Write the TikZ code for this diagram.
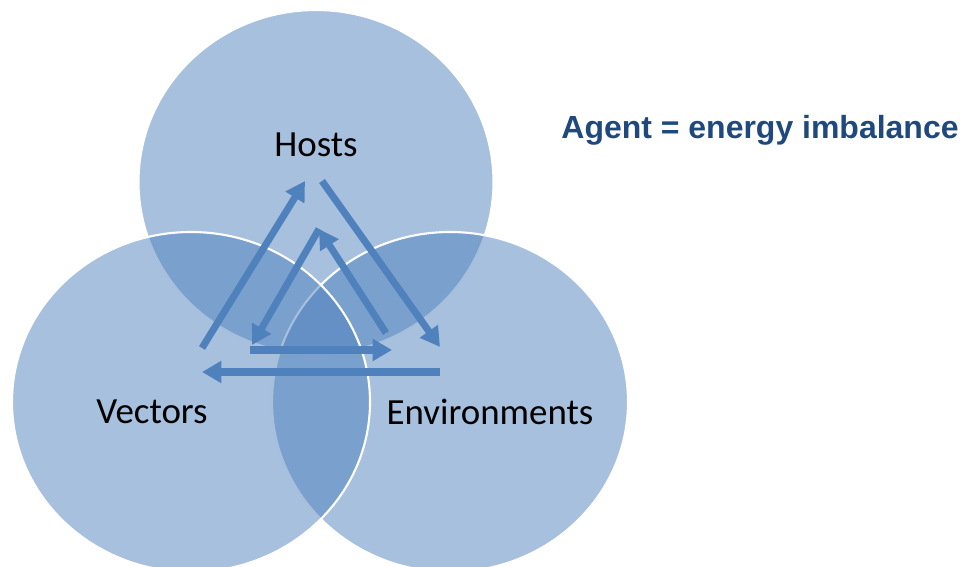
\documentclass[tikz,border=0pt]{standalone}
\usepackage{fontspec}
\setmainfont{Carlito}
\newfontfamily\agentfont{Liberation Sans}
\usetikzlibrary{arrows.meta}
\definecolor{ovalblue}{HTML}{4F81BD}
\definecolor{agentblue}{HTML}{1F497D}

\begin{document}
\begin{tikzpicture}[x=.02cm,y=-.02cm,
    venn/.style={fill=ovalblue,fill opacity=.5,draw=white,line width=1.2pt},
    flow/.style={ovalblue,line width=4pt,-{Triangle[length=11pt,width=12pt]}},
    tag/.style={font=\fontsize{21}{25}\selectfont,text=black}]
  \useasboundingbox (0,0) rectangle (972,567);
   % the three overlapping ovals
   \path[venn] (316,182) ellipse [x radius=177.5,y radius=172];
   \path[venn] (450,402) ellipse [x radius=178,y radius=170];
   \path[venn] (191,402) ellipse [x radius=179,y radius=170];
  \node[tag] (Hosts) at (316,145) {Hosts};
  \node[tag] (Vectors) at (152,412) {Vectors};
  \node[tag] (Envs) at (490,412) {Environments};
  \node[font=\agentfont\bfseries\fontsize{18.2}{22}\selectfont,text=agentblue] (Agent) at (760,130) {Agent = energy imbalance};
   % outer and inner end points of the arrows
   \coordinate (VecUp) at (202,348);
   \coordinate (HostLeft) at (305,181);
   \coordinate (HostRight) at (322,181);
   \coordinate (EnvUp) at (440,347);
   \coordinate (EnvIn) at (386,333);
   \coordinate (Apex) at (319,229);
   \coordinate (VecIn) at (252,345);
   \coordinate (BaseLeft) at (250,350);
   \coordinate (BaseRight) at (392,350);
   \coordinate (EnvLow) at (440,372);
   \coordinate (VecLow) at (202,372);
  \draw[flow] (VecUp) -- (HostLeft);
  \draw[flow] (HostRight) -- (EnvUp);
  \draw[flow] (EnvIn) -- (Apex);
  \draw[flow] (Apex) -- (VecIn);
  \draw[flow] (BaseLeft) -- (BaseRight);
  \draw[flow] (EnvLow) -- (VecLow);
 \end{tikzpicture}
\end{document}
